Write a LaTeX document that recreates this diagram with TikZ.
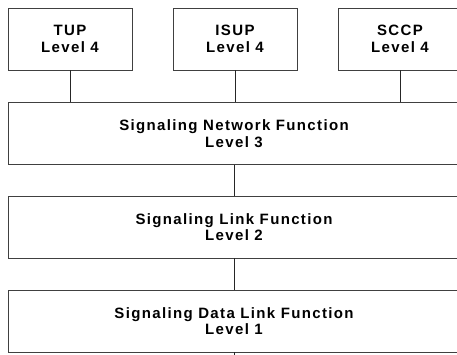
\documentclass[tikz,border=0pt]{standalone}
\usepackage{fontspec}
\setmainfont{Liberation Sans}
\newfontfamily\boxfont{Liberation Sans}[LetterSpace=9]
\usetikzlibrary{positioning}

\begin{document}
\begin{tikzpicture}[
  x=1pt, y=-1pt,
  every node/.style={font=\boxfont\fontsize{15}{16.5}\selectfont\bfseries},
  levelbox/.style={draw=black!75, line width=0.9pt, minimum width=124pt, minimum height=62pt, align=center, inner sep=0pt},
  widebox/.style={levelbox, minimum width=452pt, minimum height=62pt},
  link/.style={draw=black!85, line width=0.9pt},
]
\useasboundingbox (0,0) rectangle (457,354);

% Level 4 user parts
\node[levelbox] (tup) at (70,39) {TUP\\Level 4};
\node[levelbox] (isup) at (235,39) {ISUP\\Level 4};
\node[levelbox] (sccp) at (400,39) {SCCP\\Level 4};

% Lower levels
\node[widebox] (snf) at (234,133.5) {Signaling Network Function\\Level 3};
\node[widebox] (slf) at (234,227) {Signaling Link Function\\Level 2};
\node[widebox] (sdlf) at (234,321) {Signaling Data Link Function\\Level 1};
\coordinate (below) at (234,360);

% Links
\draw[link] (tup) -- (tup |- snf.north);
\draw[link] (isup) -- (isup |- snf.north);
\draw[link] (sccp) -- (sccp |- snf.north);
\draw[link] (snf) -- (slf);
\draw[link] (slf) -- (sdlf);
\draw[link] (sdlf) -- (below);

\end{tikzpicture}
\end{document}
